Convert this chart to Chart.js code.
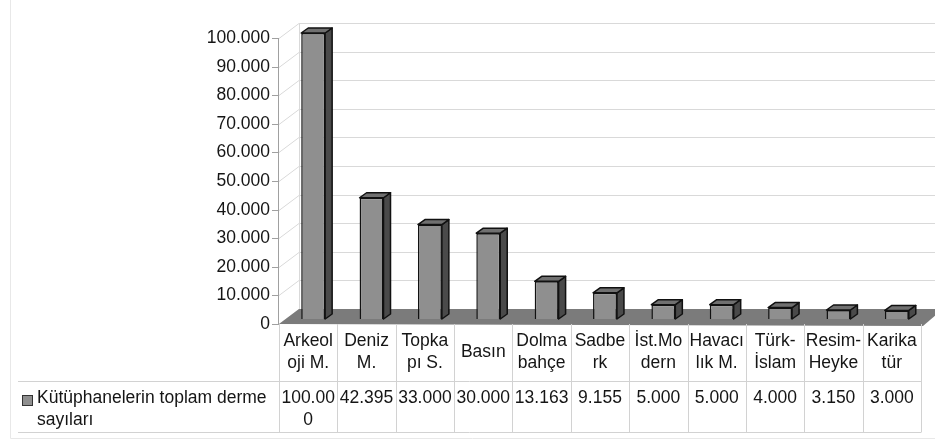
<!DOCTYPE html>
<html>
<head>
<meta charset="utf-8">
<script src="https://cdn.jsdelivr.net/npm/chart.js@4.4.1/dist/chart.umd.min.js"></script>
<style>
  html, body { margin: 0; padding: 0; background: #fff; }
</style>
</head>
<body>
<canvas id="chart" width="935" height="441"></canvas>
<script>
// category names as they wrap in the data table
const categories = [
  ['Arkeol', 'oji M.'], ['Deniz', 'M.'], ['Topka', 'pı S.'], ['Basın'],
  ['Dolma', 'bahçe'], ['Sadbe', 'rk'], ['İst.Mo', 'dern'], ['Havacı', 'lık M.'],
  ['Türk-', 'İslam'], ['Resim-', 'Heyke'], ['Karika', 'tür']
]
const collectionCounts = [100000, 42395, 33000, 30000, 13163, 9155, 5000, 5000, 4000, 3150, 3000]
const tableValues = [
  ['100.00', '0'], ['42.395'], ['33.000'], ['30.000'], ['13.163'], ['9.155'],
  ['5.000'], ['5.000'], ['4.000'], ['3.150'], ['3.000']
]
const yTickLabels = ['0', '10.000', '20.000', '30.000', '40.000', '50.000',
  '60.000', '70.000', '80.000', '90.000', '100.000']
const seriesName = ['Kütüphanelerin toplam derme', 'sayıları']

const FONT = '17.5px "Liberation Sans", Arial, sans-serif'
const DEPTH = { x: 20, y: -15 }   // wall / floor depth
const BAR_OFF = { x: 5, y: -5 }   // where the bars sit inside the depth
const BAR_DEPTH = { x: 7, y: -5 }

// walls, floor, y axis and the data table
const backdrop = {
  id: 'backdrop',
  beforeDatasetsDraw(chart) {
    const ctx = chart.ctx
    const area = chart.chartArea
    const y = chart.scales.y
    const x = chart.scales.x

    ctx.save()
    // faint outer frame
    ctx.strokeStyle = '#e8e8e8'
    ctx.lineWidth = 1
    ctx.beginPath()
    ctx.moveTo(10.5, 0); ctx.lineTo(10.5, 438.5); ctx.lineTo(935, 438.5)
    ctx.stroke()

    // gridlines on side wall + back wall
    ctx.strokeStyle = '#d9d9d9'
    y.ticks.forEach(t => {
      const py = Math.round(y.getPixelForValue(t.value)) + 0.5
      ctx.beginPath()
      ctx.moveTo(area.left, py)
      ctx.lineTo(area.left + DEPTH.x, py + DEPTH.y)
      ctx.lineTo(935, py + DEPTH.y)
      ctx.stroke()
    })
    ctx.beginPath()
    ctx.moveTo(area.left + DEPTH.x + 0.5, y.getPixelForValue(0) + DEPTH.y)
    ctx.lineTo(area.left + DEPTH.x + 0.5, y.getPixelForValue(100000) + DEPTH.y)
    ctx.stroke()

    // axis line and tick marks
    ctx.strokeStyle = '#a0a0a0'
    ctx.beginPath()
    ctx.moveTo(area.left - 0.5, y.getPixelForValue(0))
    ctx.lineTo(area.left - 0.5, y.getPixelForValue(100000))
    ctx.stroke()
    ctx.font = FONT
    ctx.fillStyle = '#151515'
    ctx.textAlign = 'right'
    ctx.textBaseline = 'middle'
    y.ticks.forEach((t, i) => {
      const py = Math.round(y.getPixelForValue(t.value)) + 0.5
      ctx.beginPath()
      ctx.moveTo(area.left - 7, py)
      ctx.lineTo(area.left, py)
      ctx.stroke()
      ctx.fillText(yTickLabels[i], area.left - 9, py)
    })

    // floor
    const fy = y.getPixelForValue(0)
    ctx.fillStyle = '#7b7b7b'
    ctx.beginPath()
    ctx.moveTo(area.left, fy)
    ctx.lineTo(area.right + 2, fy + 2)
    ctx.lineTo(area.right + 2 + DEPTH.x, fy + DEPTH.y)
    ctx.lineTo(area.left + DEPTH.x, fy + DEPTH.y)
    ctx.closePath()
    ctx.fill()

    // data table
    const colW = (area.right - area.left) / categories.length
    const top = fy
    const rowLine = 381.5
    const bottom = 432.5
    ctx.strokeStyle = '#d2d2d2'
    ctx.beginPath()
    for (let i = 0; i <= categories.length; i++) {
      const px = Math.round(area.left + i * colW) + 0.5
      ctx.moveTo(px, top)
      ctx.lineTo(px, bottom)
    }
    ctx.moveTo(18, rowLine); ctx.lineTo(area.right, rowLine)
    ctx.moveTo(18, bottom); ctx.lineTo(area.right, bottom)
    ctx.stroke()

    ctx.fillStyle = '#151515'
    ctx.textAlign = 'center'
    categories.forEach((lines, i) => {
      const cx = x.getPixelForValue(i)
      if (lines.length === 1) {
        ctx.fillText(lines[0], cx, 352)
      } else {
        ctx.fillText(lines[0], cx, 341)
        ctx.fillText(lines[1], cx, 363)
      }
      tableValues[i].forEach((s, k) => ctx.fillText(s, cx, 398 + k * 22))
    })

    // legend key
    ctx.fillStyle = '#8f8f8f'
    ctx.strokeStyle = '#333'
    ctx.fillRect(22, 395, 11, 11)
    ctx.strokeRect(22.5, 395.5, 10, 10)
    ctx.fillStyle = '#151515'
    ctx.textAlign = 'left'
    ctx.fillText(seriesName[0], 37, 398)
    ctx.fillText(seriesName[1], 37, 420)
    ctx.restore()

    // bars sit a little inside the depth
    ctx.save()
    ctx.translate(BAR_OFF.x, BAR_OFF.y)
  },
  afterDatasetsDraw(chart) {
    const ctx = chart.ctx
    const bars = chart.getDatasetMeta(0).data
    ctx.lineWidth = 1.5
    ctx.strokeStyle = '#111'
    ctx.lineJoin = 'round'
    bars.forEach(bar => {
      const { x, y, base, width } = bar.getProps(['x', 'y', 'base', 'width'], true)
      const l = x - width / 2
      const r = x + width / 2
      // side
      ctx.fillStyle = '#4a4a4a'
      ctx.beginPath()
      ctx.moveTo(r, y)
      ctx.lineTo(r + BAR_DEPTH.x, y + BAR_DEPTH.y)
      ctx.lineTo(r + BAR_DEPTH.x, base + BAR_DEPTH.y)
      ctx.lineTo(r, base)
      ctx.closePath()
      ctx.fill(); ctx.stroke()
      // top
      ctx.fillStyle = '#707070'
      ctx.beginPath()
      ctx.moveTo(l, y)
      ctx.lineTo(l + BAR_DEPTH.x, y + BAR_DEPTH.y)
      ctx.lineTo(r + BAR_DEPTH.x, y + BAR_DEPTH.y)
      ctx.lineTo(r, y)
      ctx.closePath()
      ctx.fill(); ctx.stroke()
    })
    ctx.restore()
  }
}

const ctx = document.getElementById('chart').getContext('2d')
const chart = new Chart(ctx, {
  type: 'bar',
  data: {
    labels: categories.map(c => c.join('')),
    datasets: [{
      label: seriesName.join(' '),
      data: collectionCounts,
      backgroundColor: '#8f8f8f',
      borderColor: '#111',
      borderWidth: 1.5,
      categoryPercentage: 1,
      barPercentage: 0.41,
      clip: false
    }]
  },
  options: {
    responsive: false,
    animation: false,
    devicePixelRatio: 1,
    layout: { padding: { left: 279, right: 14, top: 38, bottom: 117 } },
    plugins: {
      legend: { display: false },
      tooltip: { enabled: false }
    },
    scales: {
      x: { display: false },
      y: {
        display: false,
        min: 0,
        max: 100000,
        ticks: { stepSize: 10000 }
      }
    }
  },
  plugins: [backdrop]
})
</script>
</body>
</html>
